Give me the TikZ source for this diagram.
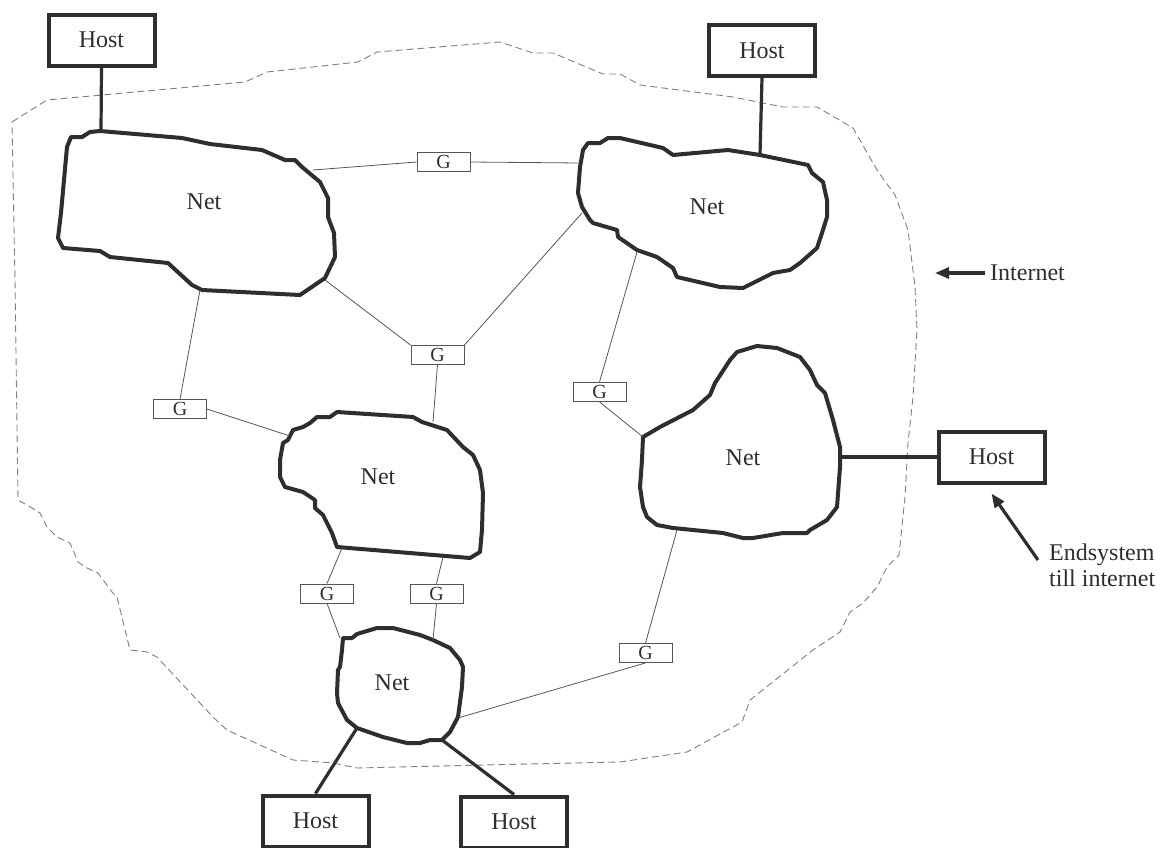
\documentclass[tikz,border=0pt]{standalone}
\usepackage{fontspec}
\setmainfont{Liberation Serif}
\usetikzlibrary{arrows.meta}
\definecolor{ink}{HTML}{2E2E2E}
\definecolor{wire}{HTML}{555555}
\definecolor{haze}{HTML}{808080}
\tikzset{
  netshape/.style={draw=ink, line width=4pt, line join=round, fill=white},
  netlabel/.style={font=\fontsize{24}{28}\selectfont, text=ink},
  hostbox/.style={draw=ink, line width=4pt, fill=white, minimum width=106pt,
    minimum height=51pt, inner sep=0pt, font=\fontsize{24}{28}\selectfont, text=ink},
  gwbox/.style={draw=wire, line width=0.8pt, fill=white, minimum width=53pt,
    minimum height=19pt, inner sep=0pt, font=\fontsize{20}{22}\selectfont, text=ink},
  hostlink/.style={draw=ink, line width=3.2pt},
  gwlink/.style={draw=wire, line width=0.8pt},
  boundary/.style={draw=haze, line width=0.9pt, dash pattern=on 7pt off 4pt, line join=round},
  pointer/.style={draw=ink, line width=3.2pt, -{Triangle[length=14pt,width=11pt]}},
  caption/.style={font=\fontsize{24}{26}\selectfont, text=ink, inner sep=0pt}
}
\begin{document}
\begin{tikzpicture}[x=1pt, y=-1pt]
\useasboundingbox[fill=white] (0,0) rectangle (1163,847);

% Internet boundary
\draw[boundary] (12,122) -- (47,100) -- (245,82) -- (267,72) -- (358,62) -- (377,52)
  -- (500,42) -- (533,53) -- (553,53) -- (603,74) -- (620,74) -- (640,85) -- (733,97)
  -- (783,107) -- (817,107) -- (853,128) -- (877,170) -- (895,195) -- (908,230)
  -- (915,287) -- (917,330) -- (913,397) -- (908,443) -- (905,497) -- (899,555)
  -- (887,567) -- (877,587) -- (863,603) -- (850,612) -- (840,632) -- (813,650)
  -- (750,700) -- (742,722) -- (687,752) -- (620,762) -- (483,765) -- (357,768)
  -- (333,763) -- (293,760) -- (227,730) -- (213,717) -- (157,657) -- (147,652)
  -- (130,650) -- (117,597) -- (112,592) -- (98,573) -- (85,567) -- (78,562)
  -- (70,543) -- (57,537) -- (47,527) -- (40,513) -- (32,508) -- (18,500)
  -- (15,280) -- cycle;

% Networks
\draw[netshape] (71,137) -- (82,137) -- (90,132) -- (100,131) -- (182,138) -- (210,144)
  -- (262,150) -- (285,160) -- (295,160) -- (302,167) -- (320,182) -- (328,198)
  -- (328,217) -- (334,233) -- (335,257) -- (325,278) -- (300,295) -- (202,290)
  -- (192,285) -- (168,263) -- (110,257) -- (100,251) -- (63,248) -- (58,238)
  -- (61,213) -- (67,147) -- cycle;
\node[netlabel] (net1) at (204,202) {Net};

\draw[netshape] (588,143) -- (600,143) -- (608,138) -- (620,138) -- (663,148) -- (673,155)
  -- (728,150) -- (760,155) -- (808,165) -- (812,173) -- (823,182) -- (827,200)
  -- (827,217) -- (822,233) -- (817,248) -- (800,263) -- (790,270) -- (773,273)
  -- (743,288) -- (720,287) -- (677,277) -- (673,268) -- (657,257) -- (637,250)
  -- (618,237) -- (617,230) -- (593,223) -- (590,220) -- (582,207) -- (578,193)
  -- (580,167) -- (583,150) -- cycle;
\node[netlabel] (net2) at (707,207) {Net};

\draw[netshape] (337,412) -- (413,417) -- (422,422) -- (447,430) -- (463,447) -- (473,455)
  -- (480,470) -- (483,493) -- (482,530) -- (480,552) -- (470,558) -- (337,547)
  -- (332,533) -- (323,515) -- (315,508) -- (315,500) -- (303,492) -- (285,487)
  -- (280,477) -- (280,460) -- (283,443) -- (288,440) -- (293,430) -- (303,427)
  -- (310,423) -- (317,417) -- (330,417) -- cycle;
\node[netlabel] (net3) at (378,477) {Net};

\draw[netshape] (643,437) -- (660,427) -- (693,410) -- (710,395) -- (715,383) -- (730,360)
  -- (737,352) -- (757,346) -- (777,348) -- (800,357) -- (810,370) -- (817,385)
  -- (825,393) -- (833,420) -- (840,447) -- (840,467) -- (837,507) -- (827,520)
  -- (810,530) -- (807,533) -- (783,533) -- (753,538) -- (743,538) -- (723,533)
  -- (673,528) -- (657,525) -- (647,517) -- (643,507) -- (640,487) -- (642,460) -- cycle;
\node[netlabel] (net4) at (743,458) {Net};

\draw[netshape] (343,638) -- (352,638) -- (357,634) -- (377,628) -- (393,628) -- (420,635)
  -- (433,640) -- (450,648) -- (460,660) -- (463,667) -- (462,687) -- (458,717)
  -- (450,732) -- (442,740) -- (430,740) -- (420,743) -- (407,743) -- (383,737)
  -- (357,728) -- (347,720) -- (338,703) -- (337,693) -- (338,670) -- (340,667)
  -- (342,650) -- cycle;
\node[netlabel] (net5) at (392,683) {Net};

% Attachment points on the network outlines
\coordinate (n1h) at (101,131);
\coordinate (n1a) at (313,170);
\coordinate (n1b) at (325,280);
\coordinate (n1c) at (200,290);
\coordinate (n2h) at (760,155);
\coordinate (n2a) at (580,163);
\coordinate (n2b) at (582,213);
\coordinate (n2c) at (637,252);
\coordinate (n3a) at (433,422);
\coordinate (n3b) at (290,436);
\coordinate (n3c) at (342,548);
\coordinate (n3d) at (443,557);
\coordinate (n4h) at (840,457);
\coordinate (n4a) at (643,437);
\coordinate (n4b) at (677,530);
\coordinate (n5a) at (357,728);
\coordinate (n5b) at (442,740);
\coordinate (n5c) at (340,638);
\coordinate (n5d) at (433,640);
\coordinate (n5e) at (458,718);

% Gateways
\node[gwbox] (g1) at (443.5,162) {G};
\node[gwbox] (g2) at (437.5,355) {G};
\node[gwbox] (g3) at (180,409) {G};
\node[gwbox] (g4) at (599.5,392) {G};
\node[gwbox] (g5) at (327,593.5) {G};
\node[gwbox] (g6) at (436.5,593.5) {G};
\node[gwbox] (g7) at (645.5,653) {G};

\draw[gwlink] (n1a) -- (g1.west);
\draw[gwlink] (g1.east) -- (n2a);
\draw[gwlink] (n1b) -- (g2.north west);
\draw[gwlink] (g2.north east) -- (n2b);
\draw[gwlink] (g2.south) -- (n3a);
\draw[gwlink] (n1c) -- (g3.north);
\draw[gwlink] (g3.east) -- (n3b);
\draw[gwlink] (n2c) -- (g4.north);
\draw[gwlink] (g4.south) -- (n4a);
\draw[gwlink] (n3c) -- (g5.north);
\draw[gwlink] (n3d) -- (g6.north);
\draw[gwlink] (g5.south) -- (n5c);
\draw[gwlink] (g6.south) -- (n5d);
\draw[gwlink] (n4b) -- (g7.north);
\draw[gwlink] (g7.south) -- (n5e);

% Hosts
\node[hostbox] (host1) at (101.5,40) {Host};
\node[hostbox] (host2) at (762,50.5) {Host};
\node[hostbox] (host3) at (991.5,457) {Host};
\node[hostbox] (host4) at (315.5,821) {Host};
\node[hostbox] (host5) at (514,822) {Host};

\draw[hostlink] (host1.south) -- (n1h);
\draw[hostlink] (host2.south) -- (n2h);
\draw[hostlink] (n4h) -- (host3.west);
\draw[hostlink] (n5a) -- (host4.north);
\draw[hostlink] (n5b) -- (host5.north);

% Annotations
\node[caption, anchor=west] (inet) at (990,273) {Internet};
\coordinate (inetTip) at (935,273);
\draw[pointer] ([xshift=-5pt]inet.west) -- (inetTip);

\node[caption, anchor=west, align=left] (endsys) at (1049,565) {Endsystem\\till internet};
\coordinate (esTail) at (1038,560);
\draw[pointer] (esTail) -- ([yshift=-9pt]host3.south);
\end{tikzpicture}
\end{document}
